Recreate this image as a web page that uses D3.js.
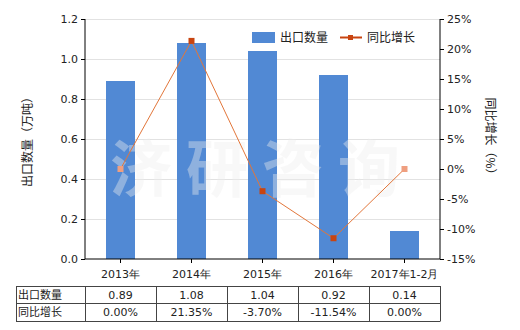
<!DOCTYPE html>
<html>
<head>
<meta charset="utf-8">
<script src="https://cdn.jsdelivr.net/npm/d3@7"></script>
<style>
body { margin: 0; background: #fff; }
text { font-family: "Noto Sans CJK SC", "DejaVu Sans", sans-serif; }
</style>
</head>
<body>
<div id="chart"></div>
<script>
const categories = ['2013年', '2014年', '2015年', '2016年', '2017年1-2月'];
const exportQty = [0.89, 1.08, 1.04, 0.92, 0.14];
const growth = [0.00, 21.35, -3.70, -11.54, 0.00];
const qtyLabels = ['0.89', '1.08', '1.04', '0.92', '0.14'];
const growthLabels = ['0.00%', '21.35%', '-3.70%', '-11.54%', '0.00%'];
const leftTicks = [0, 0.2, 0.4, 0.6, 0.8, 1.0, 1.2];
const rightTicks = [-15, -10, -5, 0, 5, 10, 15, 20, 25];

const chart_w = 520, chart_h = 330;
const plotL = 85, plotR = 440, plotT = 19, plotB = 259;
const barColor = '#5189d4';
const lineColor = '#e2763a';
const markColor = '#c84410';

const svg = d3.select('#chart').append('svg')
    .attr('width', chart_w)
    .attr('height', chart_h);

const xScale = d3.scaleBand().domain(categories).range([plotL, plotR]);
const yLeft = d3.scaleLinear().domain([0, 1.2]).range([plotB, plotT]);
const yRight = d3.scaleLinear().domain([-15, 25]).range([plotB, plotT]);
const xMid = function(i){ return xScale(categories[i]) + xScale.bandwidth() / 2; };

// grid
svg.append('g')
    .selectAll('line')
    .data(leftTicks.slice(1))
    .enter()
    .append('line')
    .attr('x1', plotL).attr('x2', plotR)
    .attr('y1', d => yLeft(d) + 0.5).attr('y2', d => yLeft(d) + 0.5)
    .attr('stroke', '#e2e2e2');

// bars
svg.append('g')
    .selectAll('rect')
    .data(exportQty)
    .enter()
    .append('rect')
    .attr('x', (d, i) => xMid(i) - 14.5)
    .attr('width', 29)
    .attr('y', d => yLeft(d))
    .attr('height', d => plotB - yLeft(d))
    .attr('fill', barColor);

// watermark
svg.append('text')
    .attr('x', 262).attr('y', 192)
    .attr('text-anchor', 'middle')
    .attr('font-size', 62)
    .attr('font-weight', 'bold')
    .attr('letter-spacing', 14)
    .attr('fill', '#eeeeee')
    .attr('fill-opacity', 0.4)
    .text('济研咨询');

// line
const lineGen = d3.line()
    .x((d, i) => xMid(i))
    .y(d => yRight(d));
svg.append('path')
    .datum(growth)
    .attr('d', lineGen)
    .attr('fill', 'none')
    .attr('stroke', lineColor)
    .attr('stroke-width', 1);

svg.append('g')
    .selectAll('rect')
    .data(growth)
    .enter()
    .append('rect')
    .attr('x', (d, i) => xMid(i) - 3)
    .attr('y', d => yRight(d) - 3)
    .attr('width', 6).attr('height', 6)
    .attr('fill', d => d === 0 ? '#ef9f80' : markColor);

// axes
const axisLeft = svg.append('g')
    .attr('transform', 'translate(' + plotL + ',0)')
    .call(d3.axisLeft(yLeft).tickValues(leftTicks).tickFormat(d3.format('.1f')).tickSize(4));
const axisRight = svg.append('g')
    .attr('transform', 'translate(' + plotR + ',0)')
    .call(d3.axisRight(yRight).tickValues(rightTicks).tickFormat(d => d + '%').tickSize(4));
const axisBottom = svg.append('g')
    .attr('transform', 'translate(0,' + plotB + ')')
    .call(d3.axisBottom(xScale).tickSize(4));

[axisLeft, axisRight, axisBottom].forEach(function(a){
    a.selectAll('path, line').attr('stroke', '#000');
    a.selectAll('text').attr('font-size', 11).attr('fill', '#222')
        .style('font-family', '"DejaVu Sans", sans-serif');
});
axisLeft.select('.domain').attr('d', 'M0,' + plotT + 'V' + plotB);
axisRight.select('.domain').attr('d', 'M0,' + plotT + 'V' + plotB);
axisBottom.select('.domain').attr('d', 'M' + plotL + ',0H' + plotR);
axisBottom.selectAll('text').attr('dy', '1.1em');

// axis titles
svg.append('text')
    .attr('transform', 'translate(32,139) rotate(-90)')
    .attr('text-anchor', 'middle')
    .attr('font-size', 12).attr('fill', '#222')
    .text('出口数量（万吨）');
svg.append('text')
    .attr('transform', 'translate(486,139) rotate(90)')
    .attr('text-anchor', 'middle')
    .attr('font-size', 12).attr('fill', '#222')
    .text('同比增长（%）');

// legend
svg.append('rect')
    .attr('x', 252).attr('y', 32).attr('width', 23).attr('height', 11)
    .attr('fill', barColor);
svg.append('text')
    .attr('x', 280).attr('y', 42)
    .attr('font-size', 12).attr('fill', '#222')
    .text('出口数量');
svg.append('line')
    .attr('x1', 340).attr('x2', 362).attr('y1', 37.5).attr('y2', 37.5)
    .attr('stroke', markColor).attr('stroke-width', 2);
svg.append('rect')
    .attr('x', 348).attr('y', 35).attr('width', 5).attr('height', 5)
    .attr('fill', markColor);
svg.append('text')
    .attr('x', 367).attr('y', 42)
    .attr('font-size', 12).attr('fill', '#222')
    .text('同比增长');

// data table
const tLeft = 16, rowTops = [286, 303, 321];
const table = svg.append('g');
const bounds = [tLeft].concat(categories.map(c => xScale(c))).concat([plotR]);
rowTops.forEach(function(y){
    table.append('line').attr('x1', tLeft).attr('x2', plotR)
        .attr('y1', y + 0.5).attr('y2', y + 0.5).attr('stroke', '#444');
});
bounds.forEach(function(x){
    table.append('line').attr('x1', Math.round(x) + 0.5).attr('x2', Math.round(x) + 0.5)
        .attr('y1', rowTops[0]).attr('y2', rowTops[2] + 0.5).attr('stroke', '#444');
});
const rowNames = ['出口数量', '同比增长'];
const rowVals = [qtyLabels, growthLabels];
rowNames.forEach(function(name, r){
    const cy = (rowTops[r] + rowTops[r + 1]) / 2;
    table.append('text')
        .attr('x', tLeft + 2).attr('y', cy + 4)
        .attr('font-size', 11).attr('fill', '#222')
        .text(name);
    table.selectAll('.v' + r)
        .data(rowVals[r])
        .enter()
        .append('text')
        .attr('class', 'v' + r)
        .attr('x', (d, i) => xMid(i))
        .attr('y', cy + 4)
        .attr('text-anchor', 'middle')
        .attr('font-size', 11).attr('fill', '#222')
        .style('font-family', '"DejaVu Sans", sans-serif')
        .text(d => d);
});
</script>
</body>
</html>
